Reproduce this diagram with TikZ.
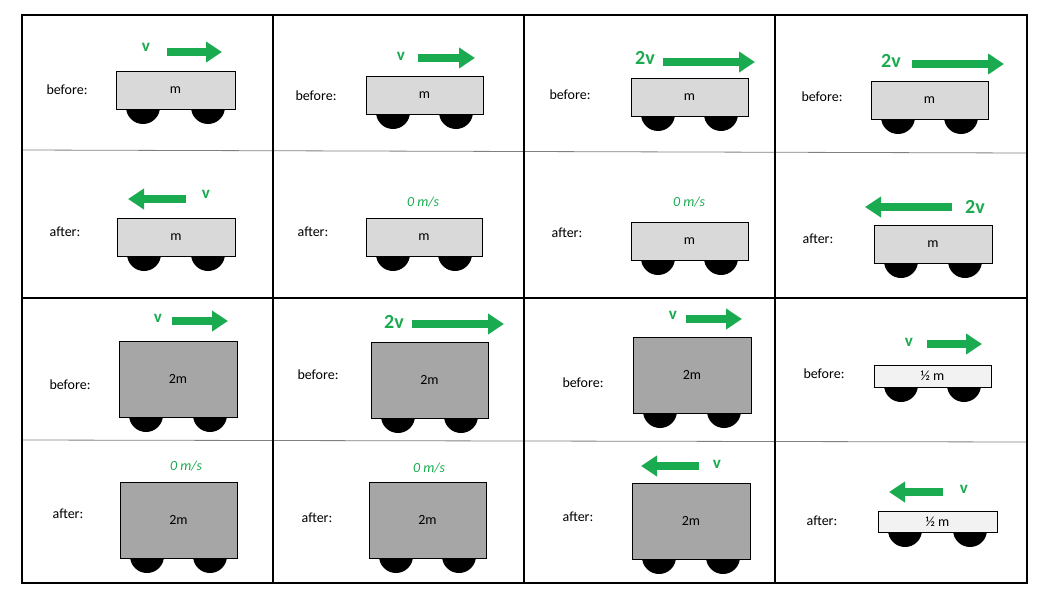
\documentclass[tikz,border=0pt]{standalone}
\usepackage{fontspec}
\setmainfont{Carlito}
\usetikzlibrary{arrows.meta}
\definecolor{grn}{RGB}{26,170,80}
\definecolor{lg}{RGB}{217,217,217}
\definecolor{dg}{RGB}{166,166,166}
\definecolor{vl}{RGB}{242,242,242}
\tikzset{
  lbl/.style={font=\fontsize{14}{16}\selectfont},
  vel/.style={text=grn,font=\bfseries\fontsize{17}{19}\selectfont},
  vel2/.style={text=grn,font=\bfseries\fontsize{20}{22}\selectfont},
  zero/.style={text=grn,font=\itshape\fontsize{14}{16}\selectfont},
  arr/.style={grn,line width=8pt,-{Triangle[length=16pt,width=20pt]}},
  wheel/.style={fill=black},
  body/.style={draw=black,line width=0.8pt},
}
\newcommand{\mycart}[6]{%
  \fill[wheel] (#1+27,#4-2) circle (17);
  \fill[wheel] (#3-27,#4-2) circle (17);
  \draw[body,fill=#5] (#1,#2) rectangle (#3,#4);
  \node[lbl] at ({(#1+#3)/2},{(#2+#4)/2}) {#6};}
\begin{document}
\begin{tikzpicture}[x=1pt,y=-1pt]
\useasboundingbox (0,0) rectangle (1051,597);
% grid
\draw[gray,line width=0.8pt] (22,150)--(1027,153);
\draw[gray,line width=0.8pt] (22,440)--(1027,442);
\draw[line width=2pt] (22,298)--(1027,298);
\foreach \x in {273,524,775} \draw[line width=2pt] (\x,15)--(\x,583);
\draw[line width=2pt] (22,15) rectangle (1027,583);
% column 1
\node[lbl] (b1) at (67,90) {before:};
\mycart{116}{71}{235}{109}{lg}{m}
\node[vel] (v1) at (146,47) {v};
\coordinate (a1s) at (167,52); \coordinate (a1e) at (222,52);
\draw[arr] (a1s)--(a1e);
\node[lbl] (f1) at (65,232) {after:};
\mycart{117}{218}{235}{256}{lg}{m}
\node[vel] (v2) at (206,194) {v};
\coordinate (a2s) at (186,199); \coordinate (a2e) at (128,199);
\draw[arr] (a2s)--(a2e);
% column 2
\node[lbl] (b2) at (316,96) {before:};
\mycart{366}{76}{483}{114}{lg}{m}
\node[vel] (v3) at (401,56) {v};
\coordinate (a3s) at (418,58); \coordinate (a3e) at (475,58);
\draw[arr] (a3s)--(a3e);
\node[lbl] (f2) at (313,232) {after:};
\mycart{366}{218}{482}{256}{lg}{m}
\node[zero] (z1) at (423,202) {0 m/s};
% column 3
\node[lbl] (b3) at (570,95) {before:};
\mycart{631}{78}{748}{116}{lg}{m}
\node[vel2] (v4) at (645,58) {2v};
\coordinate (a4s) at (663,62); \coordinate (a4e) at (755,62);
\draw[arr] (a4s)--(a4e);
\node[lbl] (f3) at (567,233) {after:};
\mycart{631}{222}{748}{260}{lg}{m}
\node[zero] (z2) at (689,202) {0 m/s};
% column 4
\node[lbl] (b4) at (822,97) {before:};
\mycart{871}{81}{988}{119}{lg}{m}
\node[vel2] (v5) at (891,61) {2v};
\coordinate (a5s) at (912,64); \coordinate (a5e) at (1004,64);
\draw[arr] (a5s)--(a5e);
\node[lbl] (f4) at (818,239) {after:};
\mycart{874}{225}{992}{263}{lg}{m}
\node[vel2] (v6) at (975,207) {2v};
\coordinate (a6s) at (952,207); \coordinate (a6e) at (865,207);
\draw[arr] (a6s)--(a6e);
% row 3/4 col 1
\node[lbl] (b5) at (70,385) {before:};
\mycart{119}{341}{237}{417}{dg}{2m}
\node[vel] (v7) at (158,318) {v};
\coordinate (a7s) at (172,321); \coordinate (a7e) at (228,321);
\draw[arr] (a7s)--(a7e);
\node[lbl] (f5) at (68,514) {after:};
\mycart{120}{482}{237}{558}{dg}{2m}
\node[zero] (z3) at (186,466) {0 m/s};
% col 2
\node[lbl] (b6) at (318,375) {before:};
\mycart{371}{342}{488}{418}{dg}{2m}
\node[vel2] (v8) at (394,322) {2v};
\coordinate (a8s) at (412,324); \coordinate (a8e) at (504,324);
\draw[arr] (a8s)--(a8e);
\node[lbl] (f6) at (317,518) {after:};
\mycart{369}{482}{486}{558}{dg}{2m}
\node[zero] (z4) at (429,468) {0 m/s};
% col 3
\node[lbl] (b7) at (583,383) {before:};
\mycart{633}{337}{751}{413}{dg}{2m}
\node[vel] (v9) at (673,315) {v};
\coordinate (a9s) at (686,319); \coordinate (a9e) at (742,319);
\draw[arr] (a9s)--(a9e);
\node[lbl] (f7) at (578,517) {after:};
\mycart{632}{483}{750}{559}{dg}{2m}
\node[vel] (v10) at (717,464) {v};
\coordinate (a10s) at (699,466); \coordinate (a10e) at (641,466);
\draw[arr] (a10s)--(a10e);
% col 4
\node[lbl] (b8) at (824,374) {before:};
\mycart{874}{365}{991}{387}{vl}{½ m}
\node[vel] (v11) at (909,342) {v};
\coordinate (a11s) at (927,344); \coordinate (a11e) at (982,344);
\draw[arr] (a11s)--(a11e);
\node[lbl] (f8) at (822,521) {after:};
\mycart{878}{511}{997}{532}{vl}{½ m}
\node[vel] (v12) at (964,489) {v};
\coordinate (a12s) at (943,492); \coordinate (a12e) at (889,492);
\draw[arr] (a12s)--(a12e);
\end{tikzpicture}
\end{document}
